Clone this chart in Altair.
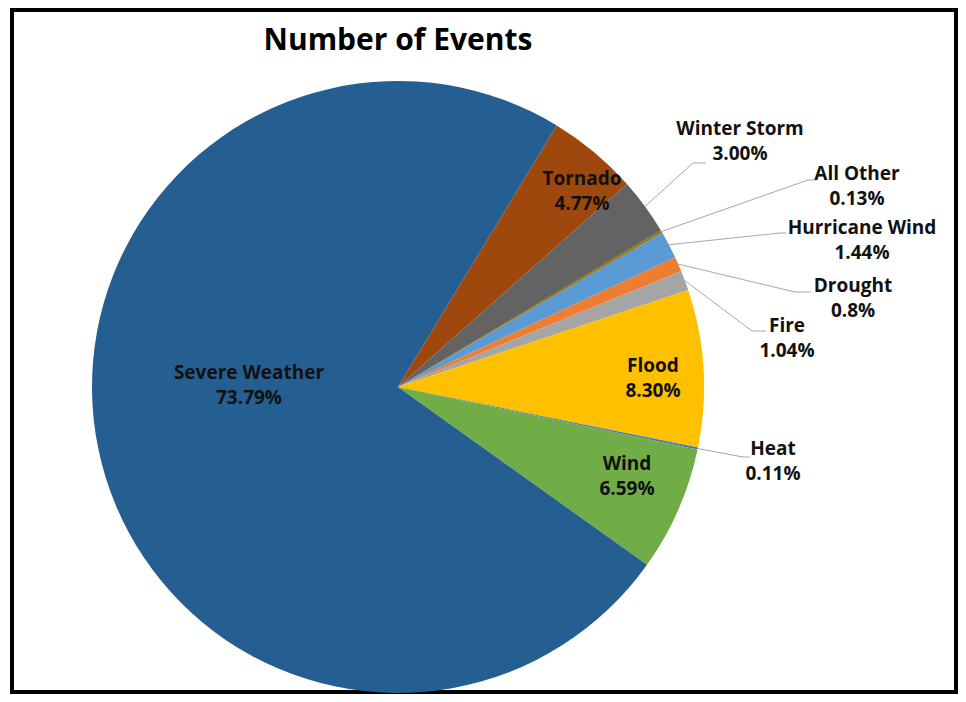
import math
import altair as alt
import pandas as pd

# ---------------- data ----------------
categories = ["Hurricane Wind", "Drought", "Fire", "Flood", "Heat", "Wind",
              "Severe Weather", "Tornado", "Winter Storm", "All Other"]
values = [1.44, 0.8, 1.04, 8.30, 0.11, 6.59, 73.79, 4.77, 3.00, 0.13]
pct_labels = ["1.44%", "0.8%", "1.04%", "8.30%", "0.11%", "6.59%",
              "73.79%", "4.77%", "3.00%", "0.13%"]
colors = ["#5B9BD5", "#ED7D31", "#A5A5A5", "#FFC000", "#4472C4", "#70AD47",
          "#255E91", "#9E480E", "#636363", "#997300"]
title_text = "Number of Events"

# ---------------- layout (pixels, relative to pie centre, y up) ----------------
W, H = 944, 682
CXV, CYV = 386, 377          # pie centre inside the view
R = 306                      # pie radius
START = math.radians(59.7)   # angle of first slice
PAGE_CX, PAGE_CY = 398, 387

def rel(px, py):
    return px - PAGE_CX, PAGE_CY - py

label_anchor = {  # centre x, first baseline (page px)
    "Severe Weather": (249, 379), "Tornado": (582, 185), "Winter Storm": (740, 135),
    "All Other": (857, 180), "Hurricane Wind": (862, 234), "Drought": (853, 292),
    "Fire": (787, 332), "Flood": (653, 372), "Heat": (773, 455), "Wind": (627, 470),
}
leader_pts = {  # elbow, end (page px)
    "Winter Storm": ((693, 163), (706, 163)),
    "All Other": ((808, 180), (815, 180)),
    "Hurricane Wind": ((780, 233), (786, 233)),
    "Drought": ((795, 292), (811, 292)),
    "Fire": ((752, 331), (766, 331)),
    "Heat": ((743, 457), (750, 457)),
}

df = pd.DataFrame({"cat": categories, "value": values, "pct": pct_labels,
                   "order": list(range(len(categories)))})

lab_rows = []
for c, p in zip(categories, pct_labels):
    lx, ly = rel(*label_anchor[c])
    lab_rows.append({"cat": c, "lx": lx, "ly": ly, "text": f"{c}\n{p}"})
lab = pd.DataFrame(lab_rows)

lead_rows = []
for i, (c, v) in enumerate(zip(categories, values)):
    row = {"cat": c, "value": v, "order": i, "has": c in leader_pts}
    if c in leader_pts:
        (ex, ey), (tx, ty) = leader_pts[c]
        row["ex"], row["ey"] = rel(ex, ey)
        row["tx"], row["ty"] = rel(tx, ty)
    else:
        row["ex"] = row["ey"] = row["tx"] = row["ty"] = 0.0
    lead_rows.append(row)
ldf = pd.DataFrame(lead_rows)

xs = alt.Scale(domain=[-CXV, W - CXV], nice=False, zero=False)
ys = alt.Scale(domain=[CYV - H, CYV], nice=False, zero=False)

pie = alt.Chart(df).mark_arc(outerRadius=R).encode(
    theta=alt.Theta("value:Q", stack=True,
                    scale=alt.Scale(range=[START, START + 2 * math.pi])),
    color=alt.Color("cat:N", scale=alt.Scale(domain=categories, range=colors),
                    legend=None),
    order=alt.Order("order:Q"),
    x=alt.X(datum=0, scale=xs, axis=None),
    y=alt.Y(datum=0, scale=ys, axis=None),
)

lead_base = (
    alt.Chart(ldf)
    .transform_window(cum="sum(value)", sort=[alt.SortField("order")], frame=[None, 0])
    .transform_joinaggregate(total="sum(value)")
    .transform_calculate(ang=f"{START} + 2*PI*(datum.cum - datum.value/2)/datum.total")
    .transform_calculate(rx=f"{R}*sin(datum.ang)", ry=f"{R}*cos(datum.ang)")
    .transform_filter("datum.has")
)
seg1 = lead_base.mark_rule(color="#A6A6A6", strokeWidth=1).encode(
    x=alt.X("rx:Q", scale=xs, axis=None), y=alt.Y("ry:Q", scale=ys, axis=None),
    x2="ex:Q", y2="ey:Q")
seg2 = lead_base.mark_rule(color="#A6A6A6", strokeWidth=1).encode(
    x=alt.X("ex:Q", scale=xs, axis=None), y=alt.Y("ey:Q", scale=ys, axis=None),
    x2="tx:Q", y2="ty:Q")

labels = alt.Chart(lab).mark_text(
    font="Open Sans", fontWeight="bold", fontSize=19, lineBreak="\n", lineHeight=25,
    baseline="alphabetic", align="center", color="#111111"
).encode(
    x=alt.X("lx:Q", scale=xs, axis=None), y=alt.Y("ly:Q", scale=ys, axis=None),
    text="text:N")

tx_, ty_ = rel(398, 50)
title = alt.Chart(pd.DataFrame({"t": [title_text]})).mark_text(
    font="Open Sans", fontWeight="bold", fontSize=30, baseline="alphabetic",
    align="center", color="#000000"
).encode(x=alt.X(datum=tx_, scale=xs, axis=None),
         y=alt.Y(datum=ty_, scale=ys, axis=None), text="t:N")

chart = alt.layer(pie, seg1, seg2, labels, title).properties(
    width=W, height=H,
    padding={"left": 4, "top": 2, "right": 2, "bottom": 2},
    autosize=alt.AutoSizeParams(type="none"),
    background="white",
).configure_view(stroke="black", strokeWidth=4)

chart.save("out.html", embed_options={"renderer": "svg", "actions": False})
